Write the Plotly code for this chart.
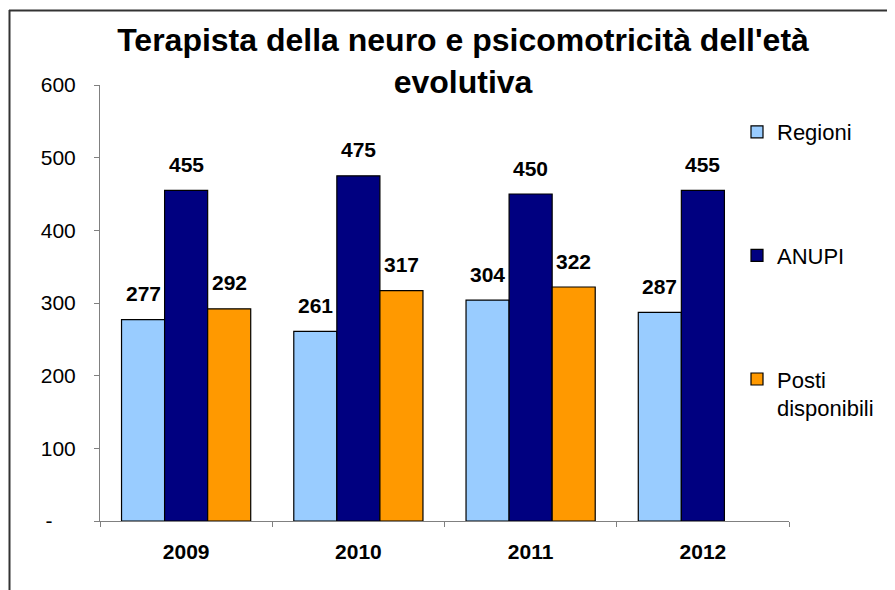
import plotly.graph_objects as go

years = ["2009", "2010", "2011", "2012"]
regioni = [277, 261, 304, 287]
anupi = [455, 475, 450, 455]
posti = [292, 317, 322, None]

series_names = ["Regioni", "ANUPI", "Posti<br>disponibili"]
series_colors = ["#99CCFF", "#000080", "#FF9900"]
y_tickvals = [0, 100, 200, 300, 400, 500, 600]
y_ticktext = ["-" + "\u00a0" * 4, "100", "200", "300", "400", "500", "600"]

FONT = "Liberation Sans, Arial, sans-serif"
W, H = 895, 590
OFF = 8  # page body margin: the figure is drawn 8px in from the window edge

# plot area in window pixels (as measured on the reference)
PX_L, PX_R, PX_T, PX_B = 100, 789, 85, 521
L, T = PX_L - OFF, PX_T - OFF
R, B = W - (PX_R - OFF), H - (PX_B - OFF)
PW, PH = W - L - R, H - T - B


def px_x(px):
    return (px - PX_L) / PW


def px_y(py):
    return (PX_B - py) / PH


fig = go.Figure()

all_values = [regioni, anupi, posti]
for i, (name, vals, color) in enumerate(zip(series_names, all_values, series_colors)):
    fig.add_trace(
        go.Bar(
            x=years, y=vals,
            name=name,
            legendgroup=f"g{i}",
            marker=dict(color=color, line=dict(color="#000000", width=1.2)),
        )
    )

# Data labels above bars (Excel-style, well above the bar top)
bar_px = 43
for i, vals in enumerate(all_values):
    for k, v in enumerate(vals):
        if v is None:
            continue
        fig.add_annotation(
            x=k, y=v, text=f"<b>{v}</b>",
            showarrow=False, xshift=(i - 1) * bar_px, yshift=26,
            font=dict(family=FONT, size=21, color="#000000"),
        )

# Outer chart frame (top and left edges visible)
for x0, y0, x1, y1 in [(9, 10.5, 910, 10.5), (9.5, 10, 9.5, 610)]:
    fig.add_shape(
        type="line", xref="paper", yref="paper",
        x0=px_x(x0), y0=px_y(y0), x1=px_x(x1), y1=px_y(y1),
        line=dict(color="#333333", width=2),
    )

fig.update_layout(
    width=W, height=H,
    paper_bgcolor="white", plot_bgcolor="white",
    margin=dict(l=L, r=R, t=T, b=B, autoexpand=False),
    font=dict(family=FONT, size=21, color="#000000"),
    title=dict(
        text="<b>Terapista della neuro e psicomotricità dell'età<br>evolutiva</b>",
        font=dict(family=FONT, size=32, color="#000000"),
        x=(463 - OFF) / W, xanchor="center", y=1 - 43 / H, yanchor="top",
    ),
    barmode="group", bargap=0.25, bargroupgap=0,
    showlegend=True,
    legend=dict(
        x=px_x(737), y=px_y(111), xanchor="left", yanchor="top",
        font=dict(family=FONT, size=22, color="#000000"),
        tracegroupgap=92, itemwidth=30, valign="top",
        bgcolor="rgba(0,0,0,0)",
    ),
)
fig.update_xaxes(
    type="category", categoryorder="array", categoryarray=years,
    range=[-0.5, len(years) - 0.5], autorange=False,
    showline=True, linecolor="#808080", linewidth=1,
    ticks="outside", tickson="boundaries", ticklen=5, tickcolor="#808080",
    ticklabelstandoff=12,
    tickfont=dict(family=FONT, size=21, color="#000000", weight="bold"),
    showgrid=False, automargin=False,
)
fig.update_yaxes(
    range=[0, 600], tickvals=y_tickvals, ticktext=y_ticktext,
    showline=True, linecolor="#808080", linewidth=1,
    ticks="outside", ticklen=5, tickcolor="#808080",
    ticklabelstandoff=14,
    tickfont=dict(family=FONT, size=21, color="#000000"),
    showgrid=False, zeroline=False, automargin=False,
)

fig.write_html("out.html")
